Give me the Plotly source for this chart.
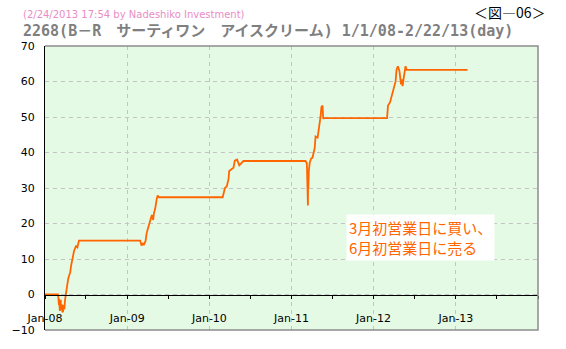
import plotly.graph_objects as go

# Cumulative return (%) of strategy: buy 1st business day of March, sell 1st business day of June
dates = [
    "2008-01-01", "2008-02-28", "2008-02-29", "2008-03-03", "2008-03-04", "2008-03-05", "2008-03-06",
    "2008-03-07", "2008-03-10", "2008-03-11", "2008-03-12", "2008-03-14", "2008-03-17", "2008-03-18",
    "2008-03-21", "2008-03-24", "2008-03-27", "2008-03-30", "2008-04-05", "2008-04-09", "2008-04-13",
    "2008-04-18", "2008-04-22", "2008-04-26", "2008-05-01", "2008-05-05", "2008-05-09", "2008-05-14",
    "2008-05-18", "2008-05-24", "2008-05-27", "2008-05-31",
    "2009-02-27", "2009-03-02", "2009-03-05", "2009-03-11", "2009-03-15", "2009-03-23", "2009-03-28",
    "2009-04-05", "2009-04-10", "2009-04-15", "2009-04-20", "2009-04-26", "2009-04-29", "2009-05-05",
    "2009-05-08", "2009-05-12", "2009-05-16", "2009-05-22",
    "2010-03-01", "2010-03-08", "2010-03-11", "2010-03-19", "2010-03-27", "2010-03-30", "2010-04-09",
    "2010-04-18", "2010-04-24", "2010-05-04", "2010-05-14", "2010-05-23", "2010-06-01",
    "2011-03-04", "2011-03-10", "2011-03-11", "2011-03-14", "2011-03-15", "2011-03-16", "2011-03-17",
    "2011-03-19", "2011-03-23", "2011-03-29", "2011-04-04", "2011-04-14", "2011-04-18", "2011-04-27",
    "2011-05-03", "2011-05-07", "2011-05-10", "2011-05-14", "2011-05-19", "2011-05-22", "2011-05-26",
    "2012-03-01", "2012-03-02", "2012-03-05", "2012-03-14", "2012-03-23", "2012-03-27", "2012-04-02",
    "2012-04-08", "2012-04-12", "2012-04-18", "2012-04-25", "2012-04-29", "2012-05-02", "2012-05-05",
    "2012-05-09", "2012-05-14", "2012-05-22", "2012-05-27",
    "2013-02-22",
]
values = [
    0.0, 0.0, -0.7, -3.0, -1.2, -3.9, -2.0,
    -4.6, -2.5, -1.5, -4.3, -4.0, -2.8, -5.0,
    -4.8, -3.0, -4.2, -1.6, 0.7, 3.5, 4.4,
    5.5, 6.2, 8.1, 9.9, 10.9, 12.2, 13.1,
    13.6, 13.3, 14.1, 15.2,
    15.2, 14.5, 13.8, 14.5, 13.9, 15.0, 17.3,
    19.1, 20.0, 21.4, 22.4, 21.0, 22.8, 24.2,
    26.0, 27.0, 27.9, 27.4,
    27.4, 28.8, 30.0, 30.4, 32.5, 34.8, 35.3,
    35.7, 37.7, 38.0, 36.4, 36.9, 37.6,
    37.6, 37.0, 35.5, 30.0, 25.1, 33.4, 30.0,
    34.8, 37.1, 38.3, 38.5, 41.2, 44.5, 44.2,
    46.8, 48.1, 50.0, 52.8, 53.2, 49.5, 49.7,
    49.7, 50.9, 53.2, 54.1, 56.0, 57.3, 58.7,
    60.1, 63.3, 64.3, 62.9, 61.0, 59.2, 60.6,
    58.7, 61.0, 64.3, 63.3,
    63.3,
]

y_ticks = [-10, 0, 10, 20, 30, 40, 50, 60, 70]
x_tick_vals = ["2008-01-01", "2009-01-01", "2010-01-01", "2011-01-01", "2012-01-01", "2013-01-01"]
x_tick_text = ["Jan-08", "Jan-09", "Jan-10", "Jan-11", "Jan-12", "Jan-13"]

title_text = "2268(B－R　サーティワン　アイスクリーム) 1/1/08-2/22/13(day)"
sub_text = "(2/24/2013 17:54 by Nadeshiko Investment)"
fig_label = "＜図―06＞"
note_text = "3月初営業日に買い、<br>6月初営業日に売る"

fig = go.Figure()
fig.add_trace(go.Scatter(
    x=dates, y=values, mode="lines",
    line=dict(color="#ff6600", width=1.8),
    hoverinfo="skip", showlegend=False,
))

grid_col = "#c4c4c4"
fig.update_layout(
    width=566, height=349,
    margin=dict(l=34, r=28, t=46, b=14),
    paper_bgcolor="white",
    plot_bgcolor="#e5fae5",
    font=dict(family="DejaVu Sans", size=11, color="black"),
    xaxis=dict(
        type="date",
        range=["2008-01-01", "2014-01-01"],
        tickvals=x_tick_vals, ticktext=x_tick_text,
        anchor="free", position=0.125,
        showline=True, linecolor="black", linewidth=1,
        ticks="outside", ticklen=3, tickcolor="black",
        minor=dict(dtick="M6", tick0="2008-01-01", ticks="outside", ticklen=3, tickcolor="black", showgrid=False),
        showgrid=True, gridcolor=grid_col, griddash="4px,4px", gridwidth=1,
        ticklabelstandoff=10,
        tickfont=dict(family="DejaVu Sans", size=11, color="black"),
        zeroline=False,
    ),
    yaxis=dict(
        range=[-10, 70], tickvals=y_ticks,
        showline=True, linecolor="black", linewidth=1,
        ticks="", ticklabelstandoff=7,
        showgrid=True, gridcolor=grid_col, griddash="4px,4px", gridwidth=1,
        zeroline=False,
        tickfont=dict(family="DejaVu Sans", size=11, color="black"),
    ),
    shapes=[
        dict(type="path", xref="paper", yref="paper",
             path="M 0 1 L 1 1 L 1 0 L 0 0",
             line=dict(color="#8c8c8c", width=1.5), layer="above"),
    ],
    annotations=[
        dict(text=sub_text, xref="paper", yref="paper", x=-0.0496, y=1.1107,
             xanchor="left", yanchor="middle", showarrow=False,
             font=dict(family="DejaVu Sans", size=10, color="#ea8cc6")),
        dict(text="<b>" + title_text + "</b>", xref="paper", yref="paper", x=-0.0496, y=1.052,
             xanchor="left", yanchor="middle", showarrow=False,
             font=dict(family="DejaVu Sans Mono, Noto Sans CJK JP", size=15, color="#7f7f7f")),
        dict(text=fig_label, xref="paper", yref="paper", x=1.0198, y=1.118,
             xanchor="right", yanchor="middle", showarrow=False,
             font=dict(family="Noto Sans CJK JP", size=14, color="black")),
        dict(text=note_text, xref="paper", yref="paper", x=0.611, y=0.408,
             xanchor="left", yanchor="top", align="left", showarrow=False,
             bgcolor="white", borderpad=2,
             font=dict(family="Noto Sans CJK JP", size=15, color="#ff6600")),
    ],
)

fig.write_html("out.html")
